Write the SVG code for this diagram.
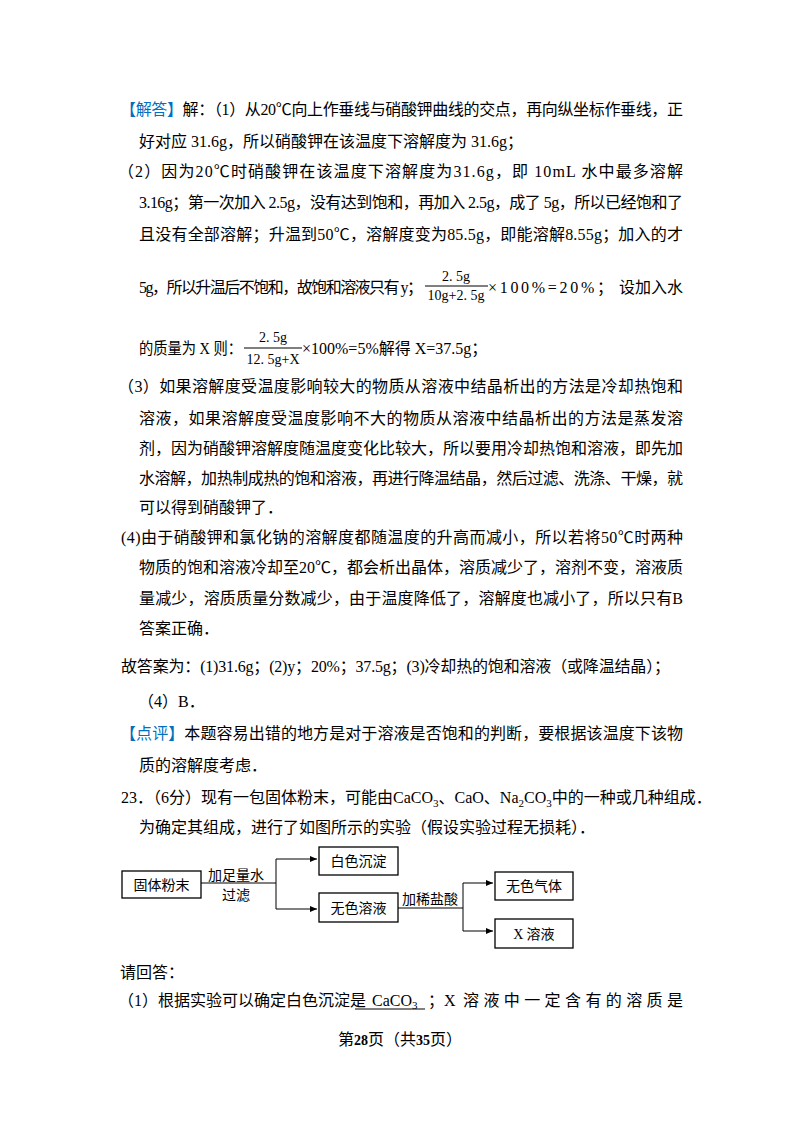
<svg xmlns="http://www.w3.org/2000/svg" width="800" height="1132" viewBox="0 0 800 1132">
<style>
text{font-family:"Liberation Serif","Noto Sans CJK SC",serif;font-size:16px;fill:#000}
.b{fill:#0070c0}
.s{font-size:14px}
.d{font-family:"Noto Sans CJK SC",sans-serif;font-size:14px}
.box{fill:#fff;stroke:#000;stroke-width:1.3}
.ln{fill:none;stroke:#000;stroke-width:1}
</style>
<defs><marker id="a" markerWidth="8" markerHeight="8" refX="7" refY="4" orient="auto" markerUnits="userSpaceOnUse"><path d="M0,1 L7,4 L0,7 Z" fill="#000"/></marker></defs>
<rect width="800" height="1132" fill="#fff"/>
<text x="120" y="115" textLength="563" lengthAdjust="spacing"><tspan class="b">【解答】</tspan>解：（1）从20℃向上作垂线与硝酸钾曲线的交点，再向纵坐标作垂线，正</text>
<text x="139" y="147">好对应 31.6g，所以硝酸钾在该温度下溶解度为 31.6g；</text>
<text x="118" y="177" textLength="565" lengthAdjust="spacing">（2）因为20℃时硝酸钾在该温度下溶解度为31.6g，即 10mL 水中最多溶解</text>
<text x="139" y="208" textLength="544" lengthAdjust="spacing">3.16g；第一次加入 2.5g，没有达到饱和，再加入 2.5g，成了 5g，所以已经饱和了</text>
<text x="139" y="240" textLength="544" lengthAdjust="spacing">且没有全部溶解；升温到50℃，溶解度变为85.5g，即能溶解8.55g；加入的才</text>
<text x="139" y="293" textLength="284" lengthAdjust="spacing">5g，所以升温后不饱和，故饱和溶液只有 y；</text>
<text x="456" y="281" class="s" text-anchor="middle">2. 5g</text>
<line x1="425" y1="286" x2="488" y2="286" stroke="#000"/>
<text x="456" y="300" class="s" text-anchor="middle">10g+2. 5g</text>
<text x="488" y="293" textLength="125" lengthAdjust="spacing">×100%=20%；</text>
<text x="683" y="293" text-anchor="end">设加入水</text>
<text x="139" y="354" textLength="103" lengthAdjust="spacingAndGlyphs">的质量为 X 则：</text>
<text x="273" y="342" class="s" text-anchor="middle">2. 5g</text>
<line x1="244" y1="348" x2="302" y2="348" stroke="#000"/>
<text x="273" y="364" class="s" text-anchor="middle">12. 5g+X</text>
<text x="302" y="354">×100%=5%解得 X=37.5g；</text>
<text x="118" y="392" textLength="565" lengthAdjust="spacing">（3）如果溶解度受温度影响较大的物质从溶液中结晶析出的方法是冷却热饱和</text>
<text x="139" y="424" textLength="544" lengthAdjust="spacing">溶液，如果溶解度受温度影响不大的物质从溶液中结晶析出的方法是蒸发溶</text>
<text x="139" y="454" textLength="544" lengthAdjust="spacing">剂，因为硝酸钾溶解度随温度变化比较大，所以要用冷却热饱和溶液，即先加</text>
<text x="139" y="484" textLength="544" lengthAdjust="spacing">水溶解，加热制成热的饱和溶液，再进行降温结晶，然后过滤、洗涤、干燥，就</text>
<text x="139" y="513">可以得到硝酸钾了．</text>
<text x="121" y="543" textLength="562" lengthAdjust="spacing">(4)由于硝酸钾和氯化钠的溶解度都随温度的升高而减小，所以若将50℃时两种</text>
<text x="139" y="573" textLength="544" lengthAdjust="spacing">物质的饱和溶液冷却至20℃，都会析出晶体，溶质减少了，溶剂不变，溶液质</text>
<text x="139" y="604" textLength="544" lengthAdjust="spacing">量减少，溶质质量分数减少，由于温度降低了，溶解度也减小了，所以只有B</text>
<text x="139" y="634">答案正确．</text>
<text x="121" y="672" textLength="549" lengthAdjust="spacing">故答案为：(1)31.6g；(2)y；20%；37.5g；(3)冷却热的饱和溶液（或降温结晶）；</text>
<text x="138" y="707">（4）B．</text>
<text x="120" y="739" textLength="563" lengthAdjust="spacing"><tspan class="b">【点评】</tspan>本题容易出错的地方是对于溶液是否饱和的判断，要根据该温度下该物</text>
<text x="139" y="771">质的溶解度考虑．</text>
<text x="121" y="803">23．（6分）现有一包固体粉末，可能由CaCO<tspan font-size="11" dy="4">3</tspan><tspan dy="-4">、CaO、Na</tspan><tspan font-size="11" dy="4">2</tspan><tspan dy="-4">CO</tspan><tspan font-size="11" dy="4">3</tspan><tspan dy="-4">中的一种或几种组成．</tspan></text>
<text x="139" y="833">为确定其组成，进行了如图所示的实验（假设实验过程无损耗）．</text>
<g id="connectors">
<path class="ln" d="M201,883 H276 M276,859 V909 M398,908 H463 M463,883 V931"/>
<path class="ln" d="M276,859 H317" marker-end="url(#a)"/>
<path class="ln" d="M276,909 H317" marker-end="url(#a)"/>
<path class="ln" d="M463,883 H493" marker-end="url(#a)"/>
<path class="ln" d="M463,931 H493" marker-end="url(#a)"/>
<text class="d" x="236" y="880" text-anchor="middle">加足量水</text>
<text class="d" x="236" y="900" text-anchor="middle">过滤</text>
<text class="d" x="430" y="904" text-anchor="middle">加稀盐酸</text>
</g>
<g id="n1"><rect class="box" x="122" y="871" width="79" height="27"/><text class="d" x="161.5" y="890" text-anchor="middle">固体粉末</text></g>
<g id="n2"><rect class="box" x="319" y="847" width="79" height="28"/><text class="d" x="358.5" y="866" text-anchor="middle">白色沉淀</text></g>
<g id="n3"><rect class="box" x="319" y="893" width="79" height="29"/><text class="d" x="358.5" y="913" text-anchor="middle">无色溶液</text></g>
<g id="n4"><rect class="box" x="495" y="872" width="78" height="28"/><text class="d" x="534" y="891" text-anchor="middle">无色气体</text></g>
<g id="n5"><rect class="box" x="495" y="919" width="78" height="29"/><text class="d" x="534" y="939" text-anchor="middle"><tspan font-family="Liberation Serif">X</tspan> 溶液</text></g>
<text x="120" y="978">请回答：</text>
<text x="118" y="1006">（1）根据实验可以确定白色沉淀是</text>
<line x1="355" y1="1009" x2="425" y2="1009" stroke="#000"/>
<text x="372" y="1006">CaCO<tspan font-size="11" dy="3">3</tspan></text>
<text x="428" y="1006">；X</text>
<text x="683" y="1006" text-anchor="end" textLength="220" lengthAdjust="spacing">溶液中一定含有的溶质是</text>
<text x="400" y="1045" font-size="12" text-anchor="middle">第<tspan font-weight="bold" font-size="14">28</tspan>页（共<tspan font-weight="bold" font-size="14">35</tspan>页）</text>
</svg>
